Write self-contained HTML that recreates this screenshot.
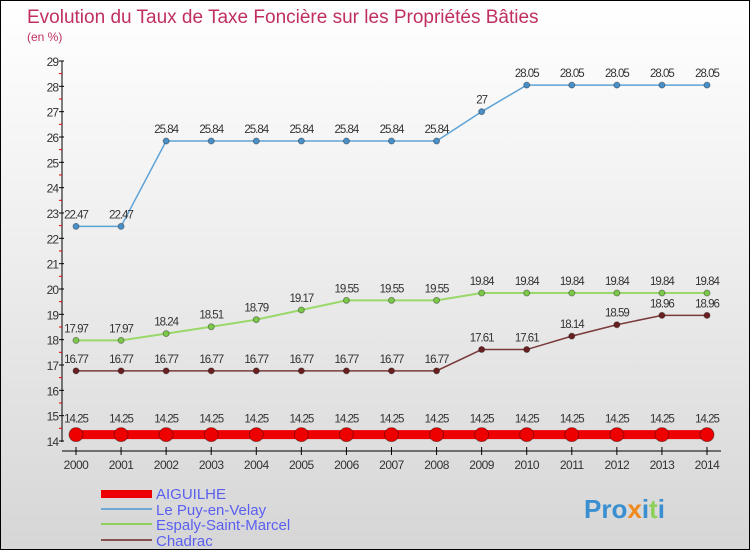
<!DOCTYPE html>
<html><head><meta charset="utf-8"><style>
body{margin:0;}
#c{width:750px;height:550px;position:relative;overflow:hidden;box-sizing:border-box;border:1px solid #000;background:linear-gradient(#ffffff 0%,#f0f0f0 40%,#d6d6d6 100%);font-family:"Liberation Sans",sans-serif;}
</style></head><body>
<div id="c">
<svg id="s" width="750" height="550" style="position:absolute;left:0;top:0">
<text x="26" y="22" font-size="19" fill="#c0305e">Evolution du Taux de Taxe Foncière sur les Propriétés Bâties</text>
<text x="26" y="40" font-size="12" fill="#c0305e">(en %)</text>
<g id="axes"></g><g id="series"></g>
<g>
<rect x="100" y="489" width="51" height="8" fill="#ee0000"/>
<text x="155" y="498" font-size="15" fill="#5a5ff0">AIGUILHE</text>
<rect x="100" y="507" width="51" height="2" fill="#6fa8d0"/>
<text x="155" y="514" font-size="15" fill="#5a5ff0">Le Puy-en-Velay</text>
<rect x="100" y="522" width="51" height="2" fill="#8ed05a"/>
<text x="155" y="529" font-size="15" fill="#5a5ff0">Espaly-Saint-Marcel</text>
<rect x="100" y="538" width="51" height="2" fill="#8a5050"/>
<text x="155" y="545" font-size="15" fill="#5a5ff0">Chadrac</text>
</g>
<text x="583" y="517" font-size="26" font-weight="bold" fill="#3a8fd0">Pro<tspan fill="#f08a1e">x</tspan>i<tspan fill="#8ed05a">t</tspan>i</text>
</svg>
</div>
<script>
const years=[2000,2001,2002,2003,2004,2005,2006,2007,2008,2009,2010,2011,2012,2013,2014];
const yTicks=[14,15,16,17,18,19,20,21,22,23,24,25,26,27,28,29];
const aiguilhe=[14.25,14.25,14.25,14.25,14.25,14.25,14.25,14.25,14.25,14.25,14.25,14.25,14.25,14.25,14.25];
const lePuy=[22.47,22.47,25.84,25.84,25.84,25.84,25.84,25.84,25.84,27,28.05,28.05,28.05,28.05,28.05];
const espaly=[17.97,17.97,18.24,18.51,18.79,19.17,19.55,19.55,19.55,19.84,19.84,19.84,19.84,19.84,19.84];
const chadrac=[16.77,16.77,16.77,16.77,16.77,16.77,16.77,16.77,16.77,17.61,17.61,18.14,18.59,18.96,18.96];
const NS="http://www.w3.org/2000/svg";
const xs=i=>75+i*(631/14);
const ys=v=>440-(v-14)*(380/15);
function mk(t,a,p){const e=document.createElementNS(NS,t);for(const k in a)e.setAttribute(k,a[k]);p.appendChild(e);return e;}
const ax=document.getElementById('axes');
let l=mk('line',{x1:61,y1:60,x2:61,y2:441,stroke:'#000'},ax);


l=mk('line',{x1:61,y1:450,x2:720,y2:450,stroke:'#000'},ax);


yTicks.forEach(v=>{
 const y=ys(v);
 mk('line',{x1:58,y1:y,x2:63,y2:y,stroke:'#000'},ax);
 if(v<29){const t=mk('line',{x1:58,y1:y-12.7,x2:61,y2:y-12.7,stroke:'#e00'},ax);}
 const t=mk('text',{x:57,y:y+5,'font-size':12,'text-anchor':'end',fill:'#333','letter-spacing':'-1'},ax);
 t.textContent=v;
 
 
});
years.forEach((yr,i)=>{
 const x=xs(i);
 mk('line',{x1:x,y1:446,x2:x,y2:454,stroke:'#000'},ax);
 const t=mk('text',{x:x,y:468,'font-size':12,'text-anchor':'middle',fill:'#333','letter-spacing':'-0.5'},ax);
 t.textContent=yr;
 
 
});
const sg=document.getElementById('series');
function series(vals,name,col,dot,w,r,lbl){
 const g=mk('g',{},sg);
 
 
 const p=mk('polyline',{points:vals.map((v,i)=>xs(i)+','+ys(v)).join(' '),fill:'none',stroke:col,'stroke-width':w},g);
 
 
 vals.forEach((v,i)=>{
  const c=mk('circle',{cx:xs(i),cy:ys(v),r:r,fill:dot,stroke:'rgba(0,0,0,0.35)'},g);
  
  
  const t=mk('text',{x:xs(i),y:ys(v)-lbl,'font-size':11.5,'text-anchor':'middle',fill:'#333','letter-spacing':'-1'},g);
  t.textContent=v;
  
  
 });
}
series(lePuy,'le-puy','#5ea3d6','#4a90c8',1.5,3,8);
series(espaly,'espaly','#9ad86a','#7cc84a',2,3,8);
series(chadrac,'chadrac','#7a3a3a','#6a2020',1.5,3,8);
series(aiguilhe,'aiguilhe','#ee0000','#ee0000',9,7,12);
</script>
</body></html>
